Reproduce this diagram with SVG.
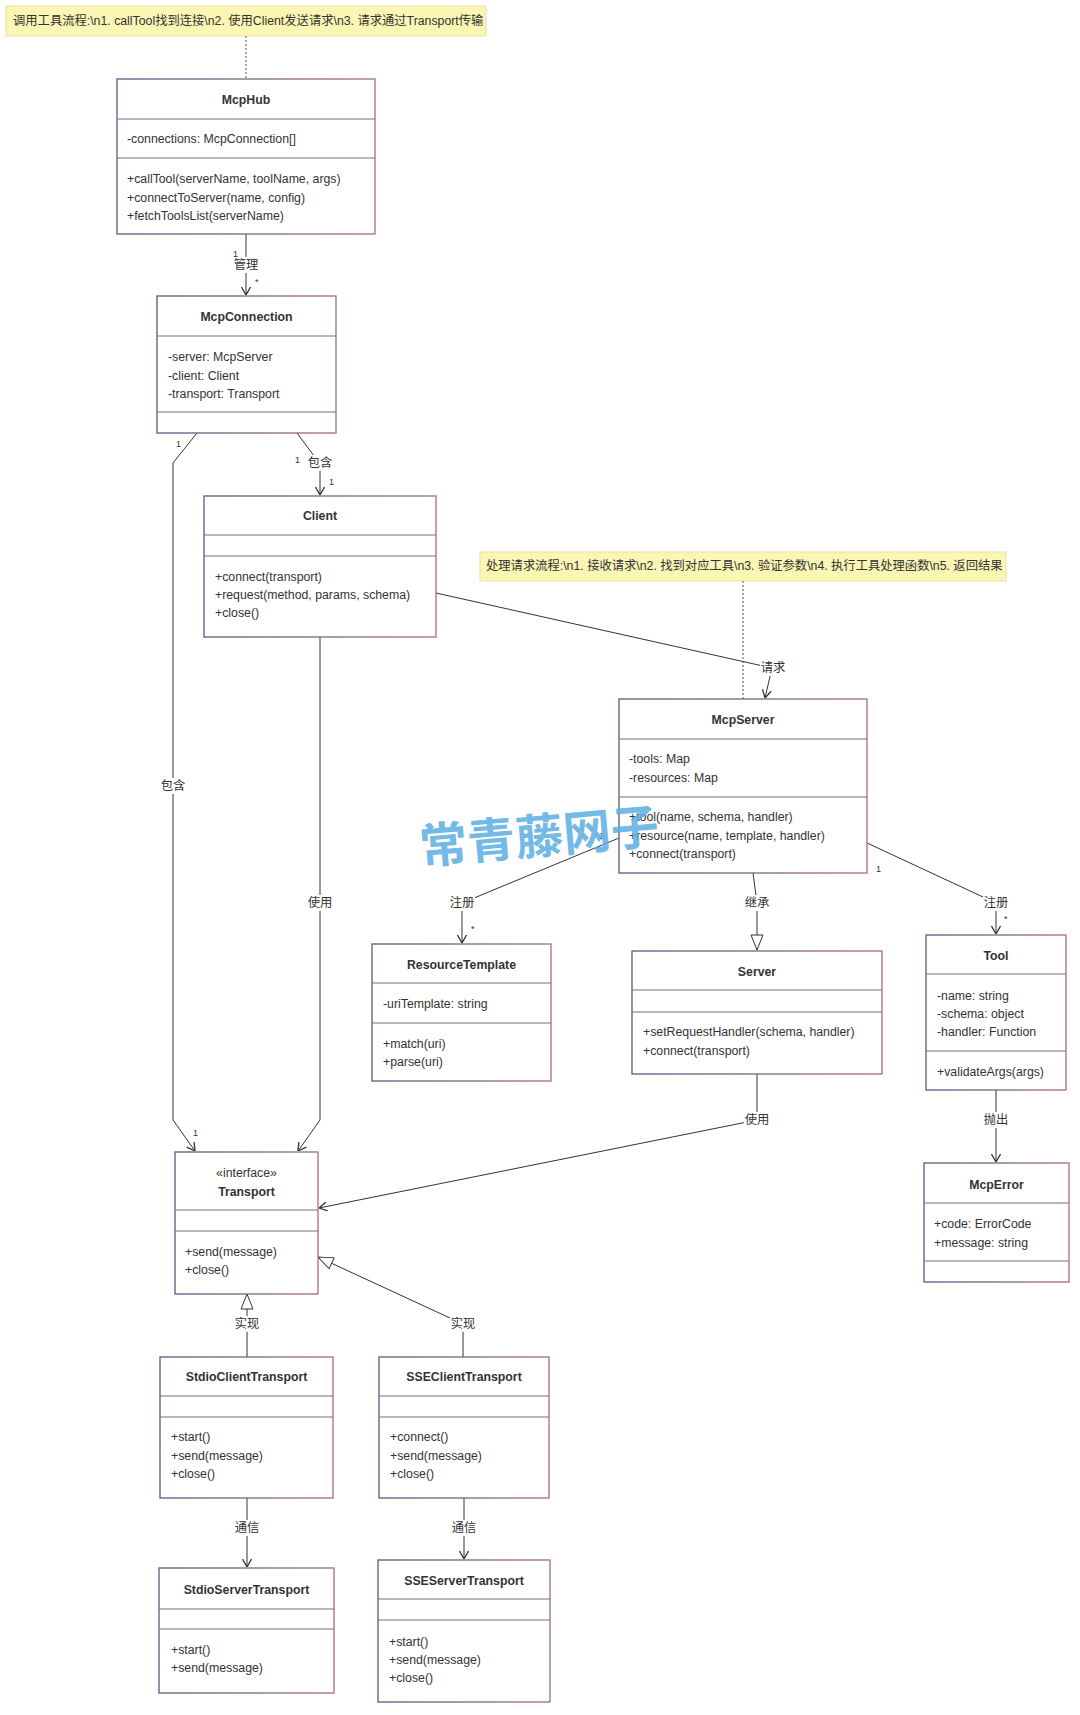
<svg xmlns="http://www.w3.org/2000/svg" width="1080" height="1715" viewBox="0 0 1080 1715">
<defs>
<linearGradient id="bs" x1="0" y1="0" x2="1" y2="0">
<stop offset="0" stop-color="#4f5d7e"/>
<stop offset="1" stop-color="#a8698a"/>
</linearGradient>
<marker id="arr" viewBox="0 0 10 10" refX="10" refY="5" markerWidth="10" markerHeight="10" markerUnits="userSpaceOnUse" orient="auto">
<path d="M2,0.5 L10,5 L2,9.5" fill="none" stroke="#333" stroke-width="1.3"/>
</marker>
<marker id="tri" viewBox="0 0 16 14" refX="16" refY="7" markerWidth="16" markerHeight="14" markerUnits="userSpaceOnUse" orient="auto">
<path d="M1,1 L16,7 L1,13 Z" fill="#fff" stroke="#333" stroke-width="1"/>
</marker>
<style>
.box{fill:#fff;stroke:url(#bs);stroke-width:1.3}
.dv{stroke:#766b8a;stroke-width:1}
text{font-family:"Liberation Sans",Arial,"Noto Sans CJK SC",sans-serif;font-size:12.3px;fill:#333}
.tb{font-weight:bold;text-anchor:middle}
.tc{text-anchor:middle}
.edge{fill:none;stroke:#333;stroke-width:1}
.dot{fill:none;stroke:#555;stroke-width:1;stroke-dasharray:2,2}
.lbg{fill:#fff}
.m{font-size:9px}
.note{fill:#fbf6b4;stroke:#e9e3a2;stroke-width:1}
.wm{font-family:"Noto Sans CJK SC",sans-serif;font-size:48px;font-weight:bold;fill:#5aaee3;fill-opacity:0.85}
</style>
</defs>
<rect width="1080" height="1715" fill="#fff"/>

<g id="note1">
<rect class="note" x="6" y="6" width="480" height="30"/>
<text x="13" y="25">调用工具流程:\n1. callTool找到连接\n2. 使用Client发送请求\n3. 请求通过Transport传输</text>
</g>
<g id="note2">
<rect class="note" x="480" y="552" width="526" height="29"/>
<text x="486" y="570">处理请求流程:\n1. 接收请求\n2. 找到对应工具\n3. 验证参数\n4. 执行工具处理函数\n5. 返回结果</text>
</g>

<g id="connectors">
<path class="dot" d="M246,36 L246,79"/>
<path class="dot" d="M743,581 L743,699"/>

<path class="edge" d="M246,234 L246,295" marker-end="url(#arr)"/>
<path class="edge" d="M197,433 L173,463 L173,1120 L195,1151" marker-end="url(#arr)"/>
<path class="edge" d="M297,433 L320,464 L320,495" marker-end="url(#arr)"/>
<path class="edge" d="M320,637 L320,1120 L298,1151" marker-end="url(#arr)"/>
<path class="edge" d="M436,593 L772,668 L765,698" marker-end="url(#arr)"/>
<path class="edge" d="M619,838 L462,903 L462,943" marker-end="url(#arr)"/>
<path class="edge" d="M753,873 L757,903 L757,950" marker-end="url(#tri)"/>
<path class="edge" d="M867,843 L996,903 L996,934" marker-end="url(#arr)"/>
<path class="edge" d="M757,1074 L757,1120 L319,1208" marker-end="url(#arr)"/>
<path class="edge" d="M996,1090 L996,1162" marker-end="url(#arr)"/>
<path class="edge" d="M247,1357 L247,1294" marker-end="url(#tri)"/>
<path class="edge" d="M463,1357 L463,1324 L318,1257" marker-end="url(#tri)"/>
<path class="edge" d="M247,1498 L247,1567" marker-end="url(#arr)"/>
<path class="edge" d="M464,1498 L464,1559" marker-end="url(#arr)"/>

<rect class="lbg" x="233" y="257" width="26" height="16"/>
<text class="tc" x="246" y="269">管理</text>
<text class="m" x="233" y="257">1</text>
<text class="m" x="255" y="285">*</text>

<rect class="lbg" x="160" y="778" width="26" height="16"/>
<text class="tc" x="173" y="790">包含</text>
<text class="m" x="176" y="447">1</text>
<text class="m" x="193" y="1136">1</text>

<rect class="lbg" x="307" y="455" width="26" height="16"/>
<text class="tc" x="320" y="467">包含</text>
<text class="m" x="295" y="463">1</text>
<text class="m" x="329" y="485">1</text>

<rect class="lbg" x="307" y="895" width="26" height="16"/>
<text class="tc" x="320" y="907">使用</text>

<rect class="lbg" x="760" y="660" width="26" height="16"/>
<text class="tc" x="773" y="672">请求</text>

<rect class="lbg" x="449" y="895" width="26" height="16"/>
<text class="tc" x="462" y="907">注册</text>
<text class="m" x="599" y="839">1</text>
<text class="m" x="471" y="932">*</text>

<rect class="lbg" x="744" y="895" width="26" height="16"/>
<text class="tc" x="757" y="907">继承</text>

<rect class="lbg" x="983" y="895" width="26" height="16"/>
<text class="tc" x="996" y="907">注册</text>
<text class="m" x="876" y="872">1</text>
<text class="m" x="1004" y="922">*</text>

<rect class="lbg" x="744" y="1112" width="26" height="16"/>
<text class="tc" x="757" y="1124">使用</text>

<rect class="lbg" x="983" y="1112" width="26" height="16"/>
<text class="tc" x="996" y="1124">抛出</text>

<rect class="lbg" x="234" y="1316" width="26" height="16"/>
<text class="tc" x="247" y="1328">实现</text>

<rect class="lbg" x="450" y="1316" width="26" height="16"/>
<text class="tc" x="463" y="1328">实现</text>

<rect class="lbg" x="234" y="1520" width="26" height="16"/>
<text class="tc" x="247" y="1532">通信</text>

<rect class="lbg" x="451" y="1520" width="26" height="16"/>
<text class="tc" x="464" y="1532">通信</text>
</g>

<g id="McpHub">
<rect class="box" x="117" y="79" width="258" height="155"/>
<line class="dv" x1="117" y1="119" x2="375" y2="119"/>
<line class="dv" x1="117" y1="158" x2="375" y2="158"/>
<text class="tb" x="246" y="104">McpHub</text>
<text x="127" y="143">-connections: McpConnection[]</text>
<text x="127" y="183">+callTool(serverName, toolName, args)</text>
<text x="127" y="202">+connectToServer(name, config)</text>
<text x="127" y="220">+fetchToolsList(serverName)</text>
</g>

<g id="McpConnection">
<rect class="box" x="157" y="296" width="179" height="137"/>
<line class="dv" x1="157" y1="336" x2="336" y2="336"/>
<line class="dv" x1="157" y1="412" x2="336" y2="412"/>
<text class="tb" x="246.5" y="321">McpConnection</text>
<text x="168" y="361">-server: McpServer</text>
<text x="168" y="380">-client: Client</text>
<text x="168" y="398">-transport: Transport</text>
</g>

<g id="Client">
<rect class="box" x="204" y="496" width="232" height="141"/>
<line class="dv" x1="204" y1="535" x2="436" y2="535"/>
<line class="dv" x1="204" y1="556" x2="436" y2="556"/>
<text class="tb" x="320" y="520">Client</text>
<text x="215" y="581">+connect(transport)</text>
<text x="215" y="599">+request(method, params, schema)</text>
<text x="215" y="617">+close()</text>
</g>

<g id="McpServer">
<rect class="box" x="619" y="699" width="248" height="174"/>
<line class="dv" x1="619" y1="739" x2="867" y2="739"/>
<line class="dv" x1="619" y1="797" x2="867" y2="797"/>
<text class="tb" x="743" y="724">McpServer</text>
<text x="629" y="763">-tools: Map</text>
<text x="629" y="782">-resources: Map</text>
<text x="629" y="821">+tool(name, schema, handler)</text>
<text x="629" y="840">+resource(name, template, handler)</text>
<text x="629" y="858">+connect(transport)</text>
</g>

<g id="ResourceTemplate">
<rect class="box" x="372" y="944" width="179" height="137"/>
<line class="dv" x1="372" y1="983" x2="551" y2="983"/>
<line class="dv" x1="372" y1="1023" x2="551" y2="1023"/>
<text class="tb" x="461.5" y="969">ResourceTemplate</text>
<text x="383" y="1008">-uriTemplate: string</text>
<text x="383" y="1048">+match(uri)</text>
<text x="383" y="1066">+parse(uri)</text>
</g>

<g id="Server">
<rect class="box" x="632" y="951" width="250" height="123"/>
<line class="dv" x1="632" y1="990" x2="882" y2="990"/>
<line class="dv" x1="632" y1="1012" x2="882" y2="1012"/>
<text class="tb" x="757" y="976">Server</text>
<text x="643" y="1036">+setRequestHandler(schema, handler)</text>
<text x="643" y="1055">+connect(transport)</text>
</g>

<g id="Tool">
<rect class="box" x="926" y="935" width="140" height="155"/>
<line class="dv" x1="926" y1="974" x2="1066" y2="974"/>
<line class="dv" x1="926" y1="1051" x2="1066" y2="1051"/>
<text class="tb" x="996" y="960">Tool</text>
<text x="937" y="1000">-name: string</text>
<text x="937" y="1018">-schema: object</text>
<text x="937" y="1036">-handler: Function</text>
<text x="937" y="1076">+validateArgs(args)</text>
</g>

<g id="McpError">
<rect class="box" x="924" y="1163" width="145" height="119"/>
<line class="dv" x1="924" y1="1203" x2="1069" y2="1203"/>
<line class="dv" x1="924" y1="1261" x2="1069" y2="1261"/>
<text class="tb" x="996.5" y="1189">McpError</text>
<text x="934" y="1228">+code: ErrorCode</text>
<text x="934" y="1247">+message: string</text>
</g>

<g id="Transport">
<rect class="box" x="175" y="1152" width="143" height="142"/>
<line class="dv" x1="175" y1="1210" x2="318" y2="1210"/>
<line class="dv" x1="175" y1="1231" x2="318" y2="1231"/>
<text class="tc" x="246.5" y="1177">«interface»</text>
<text class="tb" x="246.5" y="1196">Transport</text>
<text x="185" y="1256">+send(message)</text>
<text x="185" y="1274">+close()</text>
</g>

<g id="StdioClientTransport">
<rect class="box" x="160" y="1357" width="173" height="141"/>
<line class="dv" x1="160" y1="1396" x2="333" y2="1396"/>
<line class="dv" x1="160" y1="1417" x2="333" y2="1417"/>
<text class="tb" x="246.5" y="1381">StdioClientTransport</text>
<text x="171" y="1441">+start()</text>
<text x="171" y="1460">+send(message)</text>
<text x="171" y="1478">+close()</text>
</g>

<g id="SSEClientTransport">
<rect class="box" x="379" y="1357" width="170" height="141"/>
<line class="dv" x1="379" y1="1396" x2="549" y2="1396"/>
<line class="dv" x1="379" y1="1417" x2="549" y2="1417"/>
<text class="tb" x="464" y="1381">SSEClientTransport</text>
<text x="390" y="1441">+connect()</text>
<text x="390" y="1460">+send(message)</text>
<text x="390" y="1478">+close()</text>
</g>

<g id="StdioServerTransport">
<rect class="box" x="159" y="1568" width="175" height="125"/>
<line class="dv" x1="159" y1="1609" x2="334" y2="1609"/>
<line class="dv" x1="159" y1="1629" x2="334" y2="1629"/>
<text class="tb" x="246.5" y="1594">StdioServerTransport</text>
<text x="171" y="1654">+start()</text>
<text x="171" y="1672">+send(message)</text>
</g>

<g id="SSEServerTransport">
<rect class="box" x="378" y="1560" width="172" height="142"/>
<line class="dv" x1="378" y1="1599" x2="550" y2="1599"/>
<line class="dv" x1="378" y1="1620" x2="550" y2="1620"/>
<text class="tb" x="464" y="1585">SSEServerTransport</text>
<text x="389" y="1646">+start()</text>
<text x="389" y="1664">+send(message)</text>
<text x="389" y="1682">+close()</text>
</g>

<text class="wm" x="421" y="864" transform="rotate(-5 421 864)">常青藤网子</text>
</svg>
